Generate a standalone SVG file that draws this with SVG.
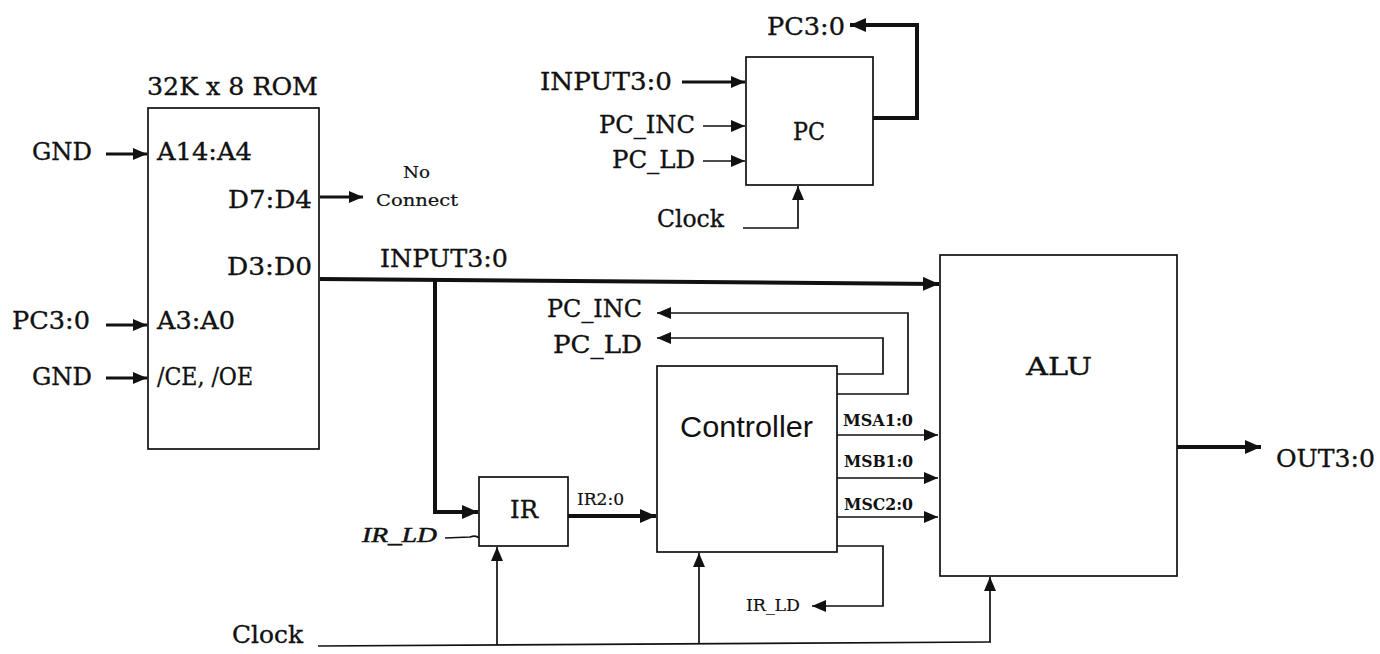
<svg xmlns="http://www.w3.org/2000/svg" width="1380" height="654" viewBox="0 0 1380 654">
<style>
  .box { fill: #ffffff; stroke: #111111; stroke-width: 1.7; }
  .t { font-family: "DejaVu Serif", "Liberation Serif", serif; font-size: 25px; fill: #111111; stroke: #111111; stroke-width: 0.35; }
  .sm { font-family: "DejaVu Serif", "Liberation Serif", serif; font-size: 16px; fill: #111111; stroke: #111111; stroke-width: 0.2; }
  .smb { font-family: "DejaVu Serif", "Liberation Serif", serif; font-size: 16px; font-weight: bold; fill: #111111; }
  .sans { font-family: "Liberation Sans", Arial, sans-serif; font-size: 30px; fill: #111111; }
  .hand { font-family: "Liberation Serif", serif; font-style: italic; font-size: 21px; fill: #111111; stroke: #111111; stroke-width: 0.5; }
  .thin { fill: none; stroke: #111111; stroke-width: 1.7; }
  .med { fill: none; stroke: #111111; stroke-width: 3; }
  .bus { fill: none; stroke: #111111; stroke-width: 4; }
</style>
<defs>
  <marker id="ah" markerUnits="userSpaceOnUse" viewBox="0 0 14 12" markerWidth="14" markerHeight="12" refX="14" refY="6" orient="auto">
    <path d="M0,0 L14,6 L0,12 z" fill="#111111"/>
  </marker>
  <marker id="ahb" markerUnits="userSpaceOnUse" viewBox="0 0 16 14" markerWidth="16" markerHeight="14" refX="16" refY="7" orient="auto">
    <path d="M0,0 L16,7 L0,14 z" fill="#111111"/>
  </marker>
</defs>
<rect width="1380" height="654" fill="#ffffff"/>

<g id="rom">
  <rect class="box" x="148" y="108" width="171" height="341"/>
  <text class="t" x="147" y="95" textLength="171" lengthAdjust="spacingAndGlyphs">32K x 8 ROM</text>
  <text class="t" x="157" y="160" textLength="95" lengthAdjust="spacingAndGlyphs">A14:A4</text>
  <text class="t" x="228" y="208" textLength="84" lengthAdjust="spacingAndGlyphs">D7:D4</text>
  <text class="t" x="227" y="275" textLength="85" lengthAdjust="spacingAndGlyphs">D3:D0</text>
  <text class="t" x="157" y="329" textLength="78" lengthAdjust="spacingAndGlyphs">A3:A0</text>
  <text class="t" x="157" y="385" font-size="22" textLength="96" lengthAdjust="spacingAndGlyphs">/CE, /OE</text>
</g>

<g id="pc">
  <rect class="box" x="746" y="57" width="127" height="128"/>
  <text class="t" x="793" y="140" textLength="32" lengthAdjust="spacingAndGlyphs">PC</text>
</g>

<g id="controller">
  <rect class="box" x="657" y="366" width="180" height="186"/>
  <text class="sans" x="680" y="437" textLength="133" lengthAdjust="spacingAndGlyphs">Controller</text>
</g>

<g id="ir">
  <rect class="box" x="479" y="477" width="89" height="69"/>
  <text class="t" x="510" y="518" font-size="27" textLength="28" lengthAdjust="spacingAndGlyphs">IR</text>
</g>

<g id="alu">
  <rect class="box" x="940" y="255" width="237" height="321"/>
  <text class="t" x="1026" y="375" font-size="32" textLength="66" lengthAdjust="spacingAndGlyphs">ALU</text>
</g>

<g id="labels">
  <text class="t" x="32" y="160" textLength="60" lengthAdjust="spacingAndGlyphs">GND</text>
  <text class="t" x="12" y="329" textLength="78" lengthAdjust="spacingAndGlyphs">PC3:0</text>
  <text class="t" x="32" y="385" textLength="60" lengthAdjust="spacingAndGlyphs">GND</text>
  <text class="sm" x="403" y="178" textLength="27" lengthAdjust="spacingAndGlyphs">No</text>
  <text class="sm" x="376" y="206" textLength="82" lengthAdjust="spacingAndGlyphs">Connect</text>
  <text class="t" x="380" y="267" textLength="128" lengthAdjust="spacingAndGlyphs">INPUT3:0</text>
  <text class="t" x="767" y="35" textLength="78" lengthAdjust="spacingAndGlyphs">PC3:0</text>
  <text class="t" x="540" y="90" textLength="132" lengthAdjust="spacingAndGlyphs">INPUT3:0</text>
  <text class="t" x="599" y="133" textLength="96" lengthAdjust="spacingAndGlyphs">PC_INC</text>
  <text class="t" x="612" y="168" textLength="83" lengthAdjust="spacingAndGlyphs">PC_LD</text>
  <text class="t" x="657" y="227" textLength="67" lengthAdjust="spacingAndGlyphs">Clock</text>
  <text class="t" x="547" y="317" textLength="95" lengthAdjust="spacingAndGlyphs">PC_INC</text>
  <text class="t" x="553" y="353" textLength="89" lengthAdjust="spacingAndGlyphs">PC_LD</text>
  <text class="smb" x="843" y="426" textLength="70" lengthAdjust="spacingAndGlyphs">MSA1:0</text>
  <text class="smb" x="844" y="467" textLength="69" lengthAdjust="spacingAndGlyphs">MSB1:0</text>
  <text class="smb" x="844" y="510" textLength="69" lengthAdjust="spacingAndGlyphs">MSC2:0</text>
  <text class="sm" x="577" y="505" font-size="17" textLength="47" lengthAdjust="spacingAndGlyphs">IR2:0</text>
  <text class="sm" x="746" y="611" font-size="17" textLength="54" lengthAdjust="spacingAndGlyphs">IR_LD</text>
  <text class="hand" x="362" y="542" textLength="75" lengthAdjust="spacingAndGlyphs">IR_LD</text>
  <text class="t" x="232" y="643" font-size="26" textLength="71" lengthAdjust="spacingAndGlyphs">Clock</text>
  <text class="t" x="1276" y="467" font-size="28" textLength="99" lengthAdjust="spacingAndGlyphs">OUT3:0</text>
</g>

<g id="connectors">
  <!-- ROM inputs -->
  <line class="med" x1="106" y1="154" x2="147" y2="154" marker-end="url(#ah)"/>
  <line class="med" x1="106" y1="325" x2="147" y2="325" marker-end="url(#ah)"/>
  <line class="med" x1="106" y1="378" x2="147" y2="378" marker-end="url(#ah)"/>
  <!-- D7:D4 no connect -->
  <line class="med" x1="320" y1="197" x2="363" y2="197" marker-end="url(#ah)"/>
  <!-- INPUT bus to ALU -->
  <line class="bus" x1="320" y1="279" x2="939" y2="284" marker-end="url(#ahb)"/>
  <!-- INPUT bus down to IR -->
  <polyline class="bus" points="435,280 435,512 478,512" marker-end="url(#ahb)"/>
  <!-- handwritten IR_LD to IR -->
  <path class="thin" d="M445,538 L470,537 Q476,535 479,538" stroke-width="2"/>
  <!-- IR2:0 to controller -->
  <line class="bus" x1="568" y1="516" x2="656" y2="516" stroke-width="4.5" marker-end="url(#ahb)"/>
  <!-- PC_INC / PC_LD feedback -->
  <polyline class="thin" points="837,394 908,394 908,313 657,313" marker-end="url(#ah)"/>
  <polyline class="thin" points="837,374 883,374 883,338 657,338" marker-end="url(#ah)"/>
  <!-- MS selects to ALU -->
  <line class="thin" x1="837" y1="435" x2="938" y2="435" stroke-width="2" marker-end="url(#ah)"/>
  <line class="thin" x1="837" y1="478" x2="938" y2="478" stroke-width="2" marker-end="url(#ah)"/>
  <line class="thin" x1="837" y1="517" x2="938" y2="517" stroke-width="2" marker-end="url(#ah)"/>
  <!-- IR_LD output -->
  <polyline class="thin" points="837,546 883,546 883,606 812,606" marker-end="url(#ah)"/>
  <!-- Clock distribution -->
  <line class="thin" x1="318" y1="646" x2="991" y2="642"/>
  <line class="thin" x1="497" y1="645" x2="497" y2="547" marker-end="url(#ah)"/>
  <line class="thin" x1="699" y1="644" x2="699" y2="553" marker-end="url(#ah)"/>
  <line class="thin" x1="990" y1="642" x2="990" y2="577" marker-end="url(#ah)"/>
  <!-- ALU output -->
  <line class="bus" x1="1177" y1="447" x2="1261" y2="447" marker-end="url(#ahb)"/>
  <!-- PC inputs -->
  <line class="med" x1="682" y1="82" x2="745" y2="82" marker-end="url(#ah)"/>
  <line class="thin" x1="703" y1="126" x2="745" y2="126" stroke-width="2" marker-end="url(#ah)"/>
  <line class="thin" x1="703" y1="161" x2="745" y2="161" stroke-width="2" marker-end="url(#ah)"/>
  <polyline class="thin" points="743,228 798,228 798,186" marker-end="url(#ah)"/>
  <!-- PC output loop -->
  <polyline class="bus" points="873,118 917,118 917,25 850,25" marker-end="url(#ahb)"/>
</g>
</svg>
